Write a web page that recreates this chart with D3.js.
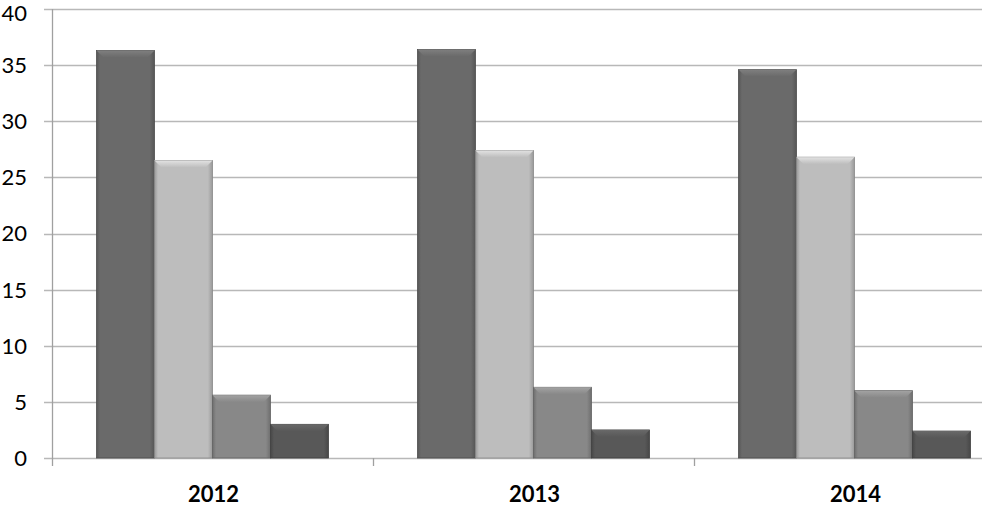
<!DOCTYPE html>
<html>
<head>
<meta charset="utf-8">
<script src="https://cdn.jsdelivr.net/npm/d3@7"></script>
<style>
  body { margin: 0; background: #fff; }
  svg { display: block; }
</style>
</head>
<body>
<div id="chart"></div>
<script>
// data
const years = ["2012", "2013", "2014"];
const seriesNames = ["s1", "s2", "s3", "s4"];
const series1 = [36.3, 36.4, 34.6];
const series2 = [26.5, 27.4, 26.8];
const series3 = [5.6, 6.3, 6.0];
const series4 = [3.0, 2.5, 2.4];
const yTicks = [0, 5, 10, 15, 20, 25, 30, 35, 40];

const colors = ["#6a6a6a", "#bdbdbd", "#888888", "#585858"];
const allSeries = [series1, series2, series3, series4];

const width = 982, height = 508;
const svg = d3.select("#chart").append("svg")
    .attr("width", width)
    .attr("height", height);

const plotLeft = 52, plotTop = 9, plotBottom = 458;
const bandW = 321;

const y = d3.scaleLinear().domain([0, 40]).range([plotBottom, plotTop]);
const x = d3.scaleBand().domain(years).range([plotLeft, plotLeft + bandW * years.length]).padding(0);
const xs = d3.scaleBand().domain(seriesNames).range([0, bandW]).paddingInner(0).paddingOuter(0.767);

const defs = svg.append("defs");
colors.forEach((c, i) => {
    const g = defs.append("linearGradient").attr("id", "side" + i)
        .attr("x1", 0).attr("x2", 1).attr("y1", 0).attr("y2", 0);
    const dk = d3.color(c).darker(0.6);
    g.append("stop").attr("offset", "0%").attr("stop-color", dk);
    g.append("stop").attr("offset", "6%").attr("stop-color", c);
    g.append("stop").attr("offset", "92%").attr("stop-color", c);
    g.append("stop").attr("offset", "100%").attr("stop-color", dk);
    const t = defs.append("linearGradient").attr("id", "top" + i)
        .attr("x1", 0).attr("x2", 0).attr("y1", 0).attr("y2", 1);
    t.append("stop").attr("offset", "0%").attr("stop-color", d3.color(c).brighter(0.5));
    t.append("stop").attr("offset", "100%").attr("stop-color", c);
});

// gridlines
svg.append("g")
    .selectAll("line")
    .data(yTicks)
    .enter().append("line")
    .attr("x1", plotLeft - 8)
    .attr("x2", width)
    .attr("y1", d => Math.round(y(d)) + 0.5)
    .attr("y2", d => Math.round(y(d)) + 0.5)
    .attr("stroke", "#b8b8b8")
    .attr("stroke-width", 1.3);

// y axis line
svg.append("line")
    .attr("x1", plotLeft + 0.5).attr("x2", plotLeft + 0.5)
    .attr("y1", plotTop).attr("y2", plotBottom + 8)
    .attr("stroke", "#a0a0a0").attr("stroke-width", 1.3);

// category tick marks
svg.append("g")
    .selectAll("line")
    .data(years.slice(1))
    .enter().append("line")
    .attr("x1", d => x(d) + 0.5)
    .attr("x2", d => x(d) + 0.5)
    .attr("y1", plotBottom)
    .attr("y2", plotBottom + 8)
    .attr("stroke", "#a0a0a0").attr("stroke-width", 1.3);

// y tick labels
svg.append("g")
    .selectAll("text")
    .data(yTicks)
    .enter().append("text")
    .attr("x", 27)
    .attr("y", d => Math.max(y(d), 13))
    .attr("dy", "0.36em")
    .attr("text-anchor", "end")
    .attr("font-family", "Lato, 'Open Sans', sans-serif")
    .attr("font-size", 22)
    .attr("fill", "#000")
    .text(d => d);

// x labels
svg.append("g")
    .selectAll("text")
    .data(years)
    .enter().append("text")
    .attr("x", d => x(d) + x.bandwidth() / 2 + 1)
    .attr("y", 502)
    .attr("text-anchor", "middle")
    .attr("font-family", "Lato, 'Open Sans', sans-serif")
    .attr("font-weight", "bold")
    .attr("font-size", 22)
    .attr("fill", "#000")
    .text(d => d);

// bars
const bars = [];
years.forEach((yr, j) => {
    allSeries.forEach((s, i) => {
        bars.push({ year: yr, key: seriesNames[i], i: i, v: s[j] });
    });
});

const bg = svg.append("g").selectAll("g")
    .data(bars)
    .enter().append("g");

bg.append("rect")
    .attr("x", d => x(d.year) + xs(d.key))
    .attr("y", d => y(d.v))
    .attr("width", xs.bandwidth())
    .attr("height", d => y(0) - y(d.v))
    .attr("fill", d => "url(#side" + d.i + ")")
    .attr("stroke", d => d3.color(colors[d.i]).darker(0.9))
    .attr("stroke-width", 0.8);

// bevelled top
bg.append("path")
    .attr("d", d => {
        const x0 = x(d.year) + xs(d.key), x1 = x0 + xs.bandwidth();
        const y0 = y(d.v), b = Math.min(7, (y(0) - y0) / 2);
        return `M${x0},${y0}L${x1},${y0}L${x1 - b},${y0 + b}L${x0 + b},${y0 + b}Z`;
    })
    .attr("fill", d => "url(#top" + d.i + ")");
</script>
</body>
</html>
